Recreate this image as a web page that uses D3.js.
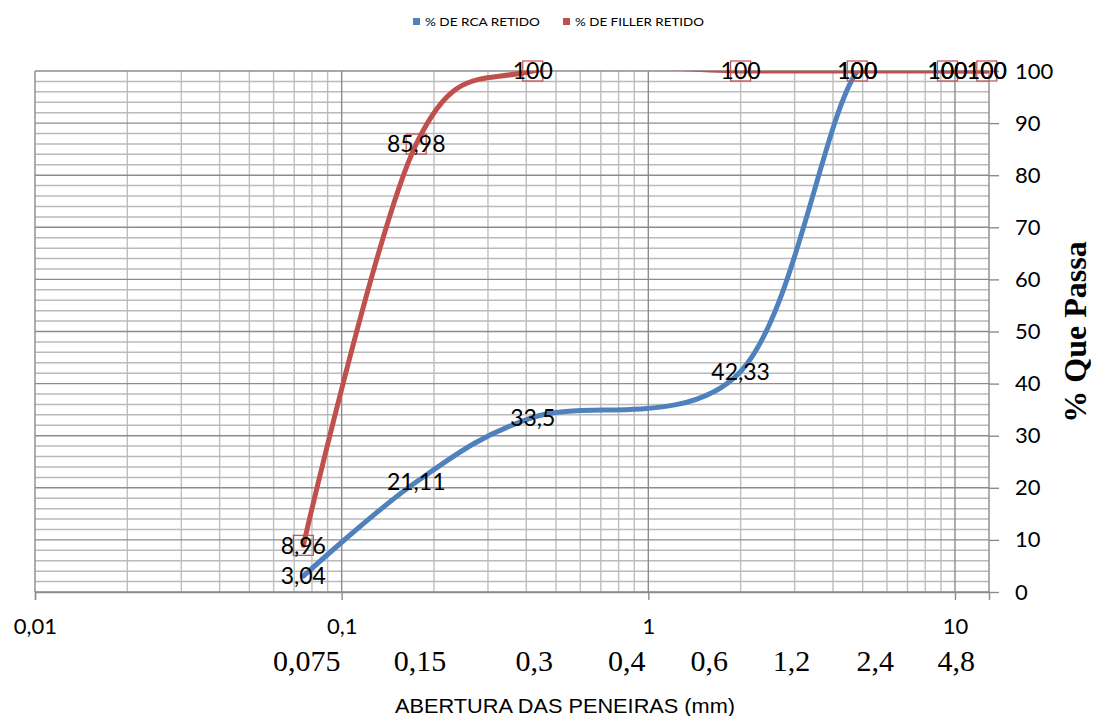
<!DOCTYPE html>
<html>
<head>
<meta charset="utf-8">
<script src="https://cdn.jsdelivr.net/npm/d3@7"></script>
<style>
  html, body { margin: 0; padding: 0; background: #fff; }
  svg { display: block; }
</style>
</head>
<body>
<svg id="chart" width="1094" height="716"></svg>
<script>
// Sieve openings (mm) where each passing percentage was measured
const sieveOpenings = [0.075, 0.175, 0.42, 2, 4.8, 9.45, 12.7];
// % passing for each material
const rcaPassing = [3.04, 21.11, 33.5, 42.33, 100, 100, 100];
const fillerPassing = [8.96, 85.98, 100, 100, 100, 100, 100];

// Axis ticks
const xTickValues = [0.01, 0.1, 1, 10];
const yTickValues = [0, 10, 20, 30, 40, 50, 60, 70, 80, 90, 100];

// Nominal sieve names written under the log axis, and where they sit on it (mm)
const sieveNames = ["0,075", "0,15", "0,3", "0,4", "0,6", "1,2", "2,4", "4,8"];
const sieveNameAt = [0.077, 0.18, 0.425, 0.85, 1.58, 2.93, 5.5, 10.1];

const seriesNames = ["% DE RCA RETIDO", "% DE FILLER RETIDO"];
const seriesColors = ["#4F81BD", "#C0504D"];

const svg = d3.select("#chart");
const plot = { left: 35, right: 989, top: 71, bottom: 592 };

const x = d3.scaleLog().domain([0.01, 12.91]).range([plot.left, plot.right]);
const y = d3.scaleLinear().domain([0, 100]).range([plot.bottom, plot.top]);

const comma = v => String(v).replace(".", ",");

// ---- grid ----
const grid = svg.append("g");
const minorX = [];
[0.01, 0.1, 1, 10].forEach(d => { for (let k = 2; k <= 9; k++) if (d * k < 12.91) minorX.push(d * k); });
grid.selectAll("line.vminor").data(minorX).join("line")
  .attr("x1", d => x(d)).attr("x2", d => x(d))
  .attr("y1", plot.top).attr("y2", plot.bottom)
  .attr("stroke", "#bfbfbf").attr("stroke-width", 1.4);
const minorY = d3.range(2, 100, 2).filter(v => v % 10 !== 0);
grid.selectAll("line.hminor").data(minorY).join("line")
  .attr("x1", plot.left).attr("x2", plot.right)
  .attr("y1", d => y(d)).attr("y2", d => y(d))
  .attr("stroke", "#bababa").attr("stroke-width", 1.5);
grid.selectAll("line.hmajor").data(yTickValues).join("line")
  .attr("x1", plot.left).attr("x2", plot.right)
  .attr("y1", d => y(d)).attr("y2", d => y(d))
  .attr("stroke", "#8c8c8c").attr("stroke-width", 1.4);
grid.selectAll("line.vmajor").data(xTickValues).join("line")
  .attr("x1", d => x(d)).attr("x2", d => x(d))
  .attr("y1", plot.top).attr("y2", plot.bottom)
  .attr("stroke", "#8c8c8c").attr("stroke-width", 1.4);
grid.append("line")
  .attr("x1", plot.right).attr("x2", plot.right)
  .attr("y1", plot.top).attr("y2", plot.bottom)
  .attr("stroke", "#8c8c8c").attr("stroke-width", 1.4);

// ---- axes ----
const xAxis = svg.append("g")
  .attr("transform", `translate(0,${plot.bottom})`)
  .call(d3.axisBottom(x).tickValues(xTickValues).tickSize(8).tickPadding(18).tickFormat(comma));
xAxis.select(".domain").attr("stroke", "#8c8c8c").attr("stroke-width", 1.4);
xAxis.selectAll(".tick line").attr("stroke", "#8c8c8c").attr("stroke-width", 1.4);
xAxis.selectAll(".tick text")
  .attr("font-family", "Lato, 'Open Sans', sans-serif").attr("font-size", 22)
  .attr("fill", "#000").attr("dy", "0.71em");

const yAxis = svg.append("g")
  .attr("transform", `translate(${plot.right},0)`)
  .call(d3.axisRight(y).tickValues(yTickValues).tickSize(10).tickPadding(16));
yAxis.select(".domain").remove();
yAxis.selectAll(".tick line").attr("stroke", "#8c8c8c").attr("stroke-width", 1.4);
yAxis.selectAll(".tick text")
  .attr("font-family", "Lato, 'Open Sans', sans-serif").attr("font-size", 22)
  .attr("fill", "#000");

// sieve names row
svg.append("g").selectAll("text").data(sieveNames).join("text")
  .attr("x", (d, i) => x(sieveNameAt[i]))
  .attr("y", 671)
  .attr("text-anchor", "middle")
  .attr("font-family", "'Liberation Serif', 'Times New Roman', serif")
  .attr("font-size", 30)
  .attr("fill", "#000")
  .text(d => d);

// axis titles
svg.append("text")
  .attr("x", 565).attr("y", 713)
  .attr("text-anchor", "middle")
  .attr("font-family", "'Liberation Sans', Arial, sans-serif")
  .attr("font-size", 21)
  .attr("textLength", 340).attr("lengthAdjust", "spacingAndGlyphs")
  .attr("fill", "#000")
  .text("ABERTURA DAS PENEIRAS  (mm)");

svg.append("text")
  .attr("transform", "translate(1086,332) rotate(-90)")
  .attr("text-anchor", "middle")
  .attr("font-family", "'Liberation Serif', 'Times New Roman', serif")
  .attr("font-weight", "bold")
  .attr("font-size", 32)
  .attr("fill", "#000")
  .text("% Que Passa");

// ---- series ----
svg.append("clipPath").attr("id", "plotClip")
  .append("rect")
  .attr("x", plot.left).attr("y", plot.top - 0.3)
  .attr("width", plot.right - plot.left + 6).attr("height", plot.bottom - plot.top + 6);

const line = d3.line()
  .x(d => x(d[0])).y(d => y(d[1]))
  .curve(d3.curveCatmullRom.alpha(0));

const series = [rcaPassing, fillerPassing].map((vals, i) => ({
  name: seriesNames[i],
  color: seriesColors[i],
  points: sieveOpenings.map((s, j) => [s, vals[j]])
}));

const lines = svg.append("g").attr("clip-path", "url(#plotClip)");
series.forEach(s => {
  lines.append("path")
    .attr("d", line(s.points))
    .attr("fill", "none")
    .attr("stroke", s.color)
    .attr("stroke-width", 5)
    .attr("stroke-linecap", "round");
});

// filler markers: hollow squares
svg.append("g").selectAll("rect").data(series[1].points).join("rect")
  .attr("x", d => x(d[0]) - 10).attr("y", d => y(d[1]) - 10)
  .attr("width", 20).attr("height", 20)
  .attr("fill", "none").attr("stroke", seriesColors[1]).attr("stroke-width", 1.2);

// data labels centred on each point
const labels = svg.append("g")
  .attr("font-family", "Lato, 'Open Sans', sans-serif")
  .attr("font-size", 23)
  .attr("fill", "#000")
  .attr("text-anchor", "middle");
series.forEach(s => {
  labels.selectAll(null).data(s.points).join("text")
    .attr("x", d => x(d[0]))
    .attr("y", d => y(d[1]))
    .attr("dy", "0.36em")
    .text(d => comma(d[1]));
});

// ---- legend ----
const legend = svg.append("g")
  .attr("font-family", "Lato, 'Open Sans', sans-serif")
  .attr("font-size", 12)
  .attr("fill", "#000");
const legendX = [413, 563];
const legendW = [115, 129];
series.forEach((s, i) => {
  legend.append("rect")
    .attr("x", legendX[i]).attr("y", 18).attr("width", 7).attr("height", 7)
    .attr("fill", s.color);
  legend.append("text")
    .attr("x", legendX[i] + 12).attr("y", 26)
    .attr("textLength", legendW[i]).attr("lengthAdjust", "spacingAndGlyphs")
    .text(s.name);
});
</script>
</body>
</html>
